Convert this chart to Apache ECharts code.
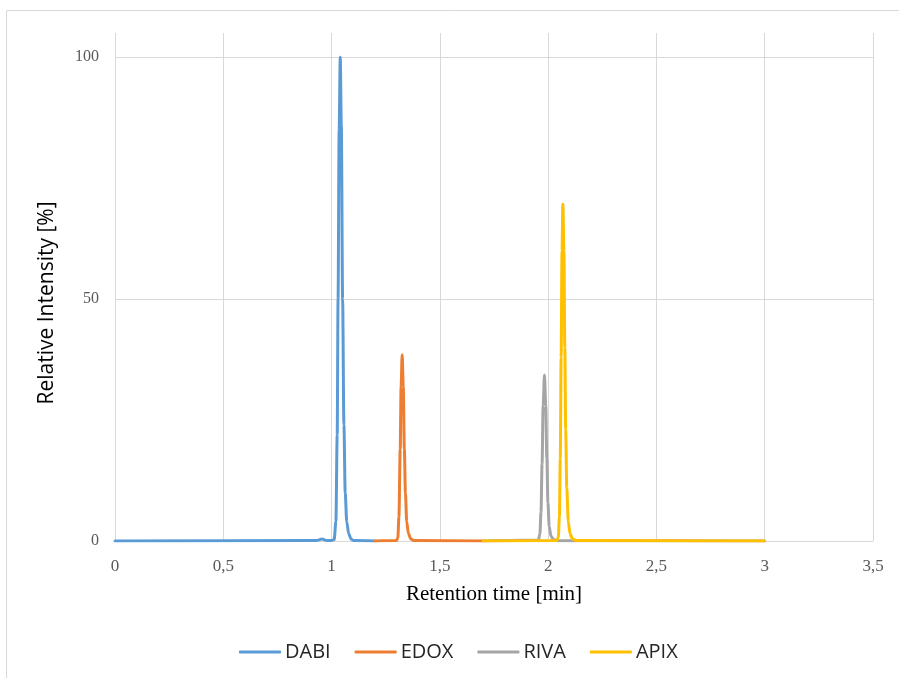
<!DOCTYPE html>
<html>
<head>
<meta charset="utf-8">
<script src="https://cdn.jsdelivr.net/npm/echarts@6/dist/echarts.min.js"></script>
<style>
  html, body { margin: 0; padding: 0; background: #ffffff; }
  #chart { width: 899px; height: 678px; }
</style>
</head>
<body>
<div id="chart"></div>
<script>
// Chromatogram traces: retention time [min] and relative intensity [%]
const seriesNames = ['DABI', 'EDOX', 'RIVA', 'APIX'];
const seriesColors = ['#5B9BD5', '#ED7D31', '#A5A5A5', '#FFC000'];

const dabiTime = [0, 0.90, 0.93, 0.955, 0.98, 1.00, 1.012, 1.020, 1.026, 1.030, 1.035, 1.040, 1.045, 1.051, 1.057, 1.063, 1.070, 1.079, 1.090, 1.10, 1.20];
const dabiIntensity = [0, 0.1, 0.1, 0.4, 0.1, 0.1, 0.3, 4, 22, 50, 85, 100, 86, 50, 24, 10, 4, 1.5, 0.4, 0.1, 0];

const edoxTime = [1.20, 1.30, 1.306, 1.311, 1.317, 1.321, 1.326, 1.331, 1.336, 1.341, 1.347, 1.355, 1.366, 1.38, 1.70];
const edoxIntensity = [0, 0.1, 0.6, 5, 19, 32, 38.5, 32, 19, 10, 4, 1.5, 0.4, 0.1, 0];

const rivaTime = [1.70, 1.955, 1.962, 1.967, 1.972, 1.977, 1.983, 1.989, 1.994, 1.999, 2.005, 2.013, 2.025, 2.04, 3.00];
const rivaIntensity = [0, 0.2, 1.5, 6, 16, 28, 34.3, 28, 17, 8, 3, 1, 0.3, 0.05, 0];

const apixTime = [1.70, 2.04, 2.047, 2.052, 2.056, 2.060, 2.064, 2.068, 2.073, 2.077, 2.081, 2.086, 2.093, 2.101, 2.113, 2.13, 3.00];
const apixIntensity = [0, 0.1, 0.8, 5, 17, 38, 60, 69.6, 60, 40, 23, 11, 4, 1.5, 0.4, 0.1, 0];

const xTicks = [0, 0.5, 1, 1.5, 2, 2.5, 3, 3.5];
const yTicks = [0, 50, 100];

const traces = [
  [dabiTime, dabiIntensity],
  [edoxTime, edoxIntensity],
  [rivaTime, rivaIntensity],
  [apixTime, apixIntensity]
];

function pairUp(t, v) {
  return t.map((x, i) => [x, v[i]]);
}

const chart = echarts.init(document.getElementById('chart'), null, { renderer: 'canvas' });

const gridColor = '#d9d9d9';
const serif = '"Liberation Serif", "Times New Roman", serif';
const sans = '"Open Sans", "Liberation Sans", sans-serif';

chart.setOption({
  backgroundColor: '#ffffff',
  animation: false,
  graphic: [
    {
      type: 'rect',
      shape: { x: 6.5, y: 10.5, width: 1000, height: 1000 },
      style: { fill: 'none', stroke: gridColor, lineWidth: 1 },
      silent: true,
      z: -10
    },
    {
      type: 'text',
      x: 47,
      y: 303,
      rotation: Math.PI / 2,
      style: {
        text: 'Relative Intensity [%]',
        font: '21px ' + sans,
        fill: '#000000',
        align: 'center',
        verticalAlign: 'middle'
      }
    }
  ],
  grid: { left: 115, right: 26, top: 33, bottom: 137, containLabel: false },
  legend: {
    data: seriesNames,
    left: 239,
    top: 642,
    padding: 0,
    icon: 'roundRect',
    itemWidth: 42,
    itemHeight: 3,
    itemGap: 24,
    textStyle: { fontFamily: sans, fontSize: 20, color: '#262626', padding: [0, 0, 0, -1] }
  },
  xAxis: {
    type: 'value',
    min: 0,
    max: 3.5,
    interval: 0.5,
    name: 'Retention time [min]',
    nameLocation: 'middle',
    nameGap: 43,
    nameTextStyle: { fontFamily: serif, fontSize: 21, color: '#000000' },
    axisLine: { show: true, lineStyle: { color: gridColor, width: 1 } },
    axisTick: { show: false },
    axisLabel: {
      margin: 17,
      fontFamily: serif,
      fontSize: 17,
      color: '#595959',
      formatter: v => (xTicks.indexOf(v) >= 0 ? String(v).replace('.', ',') : '')
    },
    splitLine: { show: true, lineStyle: { color: gridColor, width: 1 } }
  },
  yAxis: {
    type: 'value',
    min: 0,
    max: 105,
    interval: 50,
    axisLine: { show: false },
    axisTick: { show: false },
    axisLabel: {
      margin: 16,
      fontFamily: serif,
      fontSize: 16,
      color: '#595959',
      showMaxLabel: false,
      formatter: v => (yTicks.indexOf(v) >= 0 ? String(v) : '')
    },
    splitLine: { show: true, showMaxLine: false, lineStyle: { color: gridColor, width: 1 } }
  },
  series: traces.map((tr, i) => ({
    name: seriesNames[i],
    type: 'line',
    data: pairUp(tr[0], tr[1]),
    showSymbol: false,
    symbol: 'none',
    smooth: 0.3,
    smoothMonotone: 'x',
    color: seriesColors[i],
    lineStyle: { color: seriesColors[i], width: 3, cap: 'round', join: 'round' },
    z: 2 + i
  }))
});
</script>
</body>
</html>
